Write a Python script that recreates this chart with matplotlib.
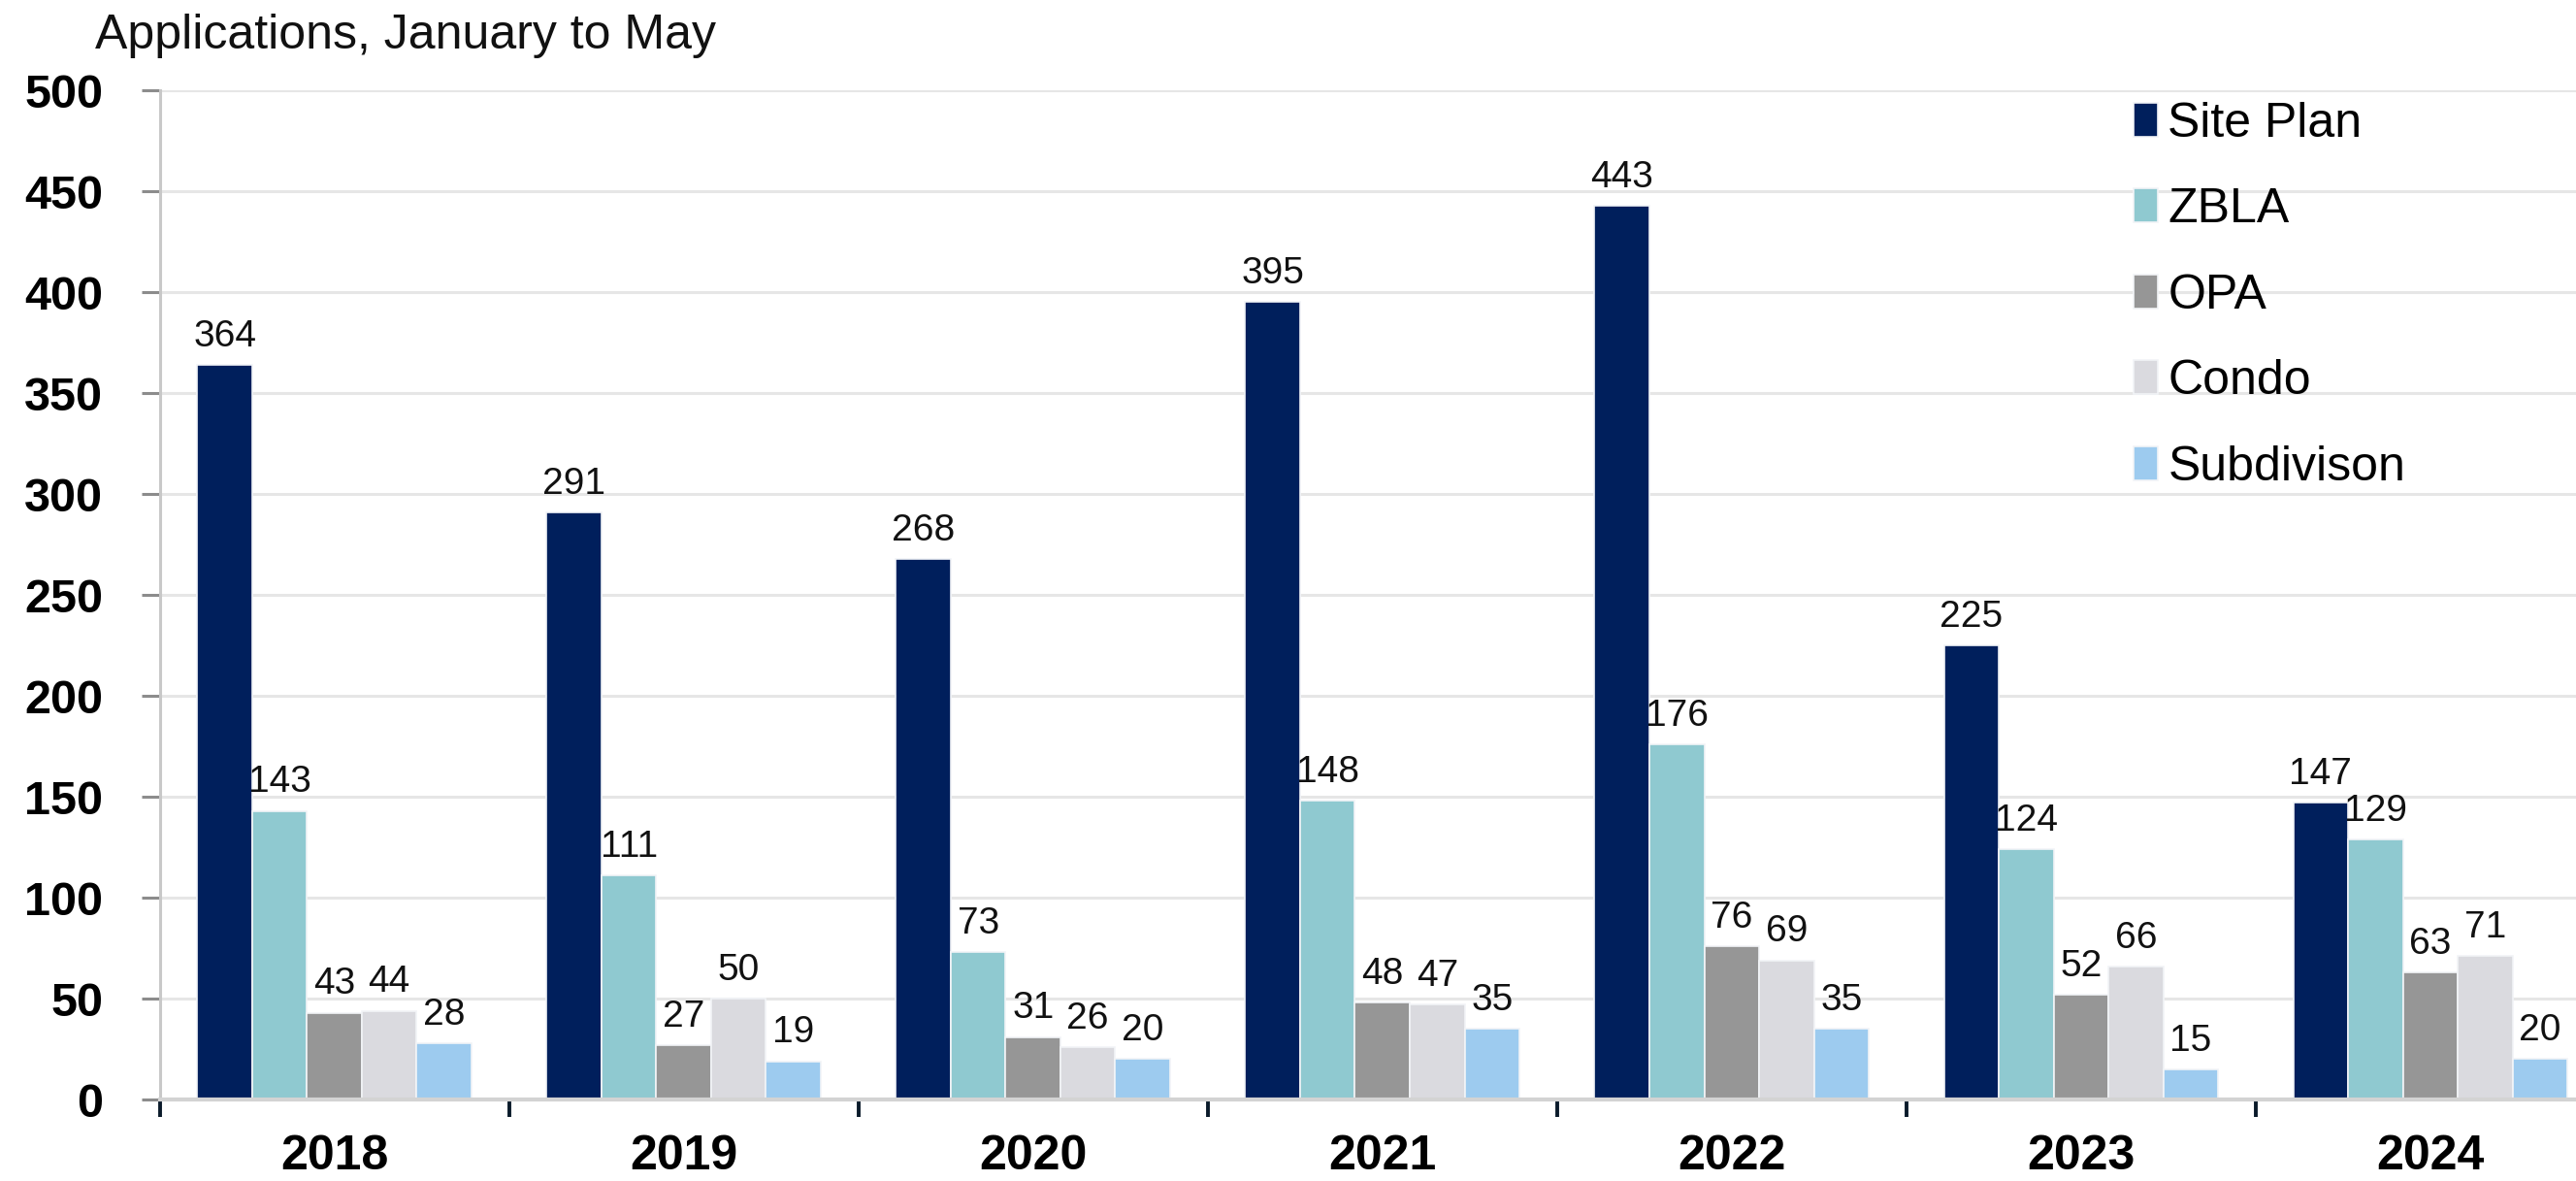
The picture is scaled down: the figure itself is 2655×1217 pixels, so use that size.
import numpy as np
import matplotlib.pyplot as plt

# data
years = ['2018', '2019', '2020', '2021', '2022', '2023', '2024']
site_plan = [364, 291, 268, 395, 443, 225, 147]
zbla = [143, 111, 73, 148, 176, 124, 129]
opa = [43, 27, 31, 48, 76, 52, 63]
condo = [44, 50, 26, 47, 69, 66, 71]
subdivision = [28, 19, 20, 35, 35, 15, 20]

series_names = ['Site Plan', 'ZBLA', 'OPA', 'Condo', 'Subdivison']
series_values = [site_plan, zbla, opa, condo, subdivision]
colors = ['#001F5C', '#8FC9D0', '#969696', '#DADADF', '#9DCBEF']

plt.rcParams['font.family'] = ['Liberation Sans', 'DejaVu Sans']

fig = plt.figure(figsize=(26.55, 12.17), dpi=100)
ax = fig.add_axes([0.062, 0.069, 0.938, 0.8545])

x = np.arange(len(years))
w = 0.157
for i, (name, vals) in enumerate(zip(series_names, series_values)):
    pos = x + (i - 2) * w
    bars = ax.bar(pos, vals, width=w, color=colors[i], edgecolor='#F2F4F7',
                  linewidth=1.2, label=name, zorder=2)
    for b, v in zip(bars, vals):
        ax.annotate(str(v), (b.get_x() + b.get_width() / 2, v),
                    xytext=(0, 8), textcoords='offset points',
                    ha='center', va='bottom', fontsize=28, color='#111111')

ax.set_ylim(0, 500)
ax.set_xlim(-0.5, 6.417)
ax.set_yticks(np.arange(0, 501, 50))
ax.yaxis.grid(True, color='#E6E6E6', linewidth=2.2, zorder=0)
ax.set_axisbelow(True)

ax.spines['top'].set_visible(False)
ax.spines['right'].set_visible(False)
ax.spines['left'].set_color('#C8C8C8')
ax.spines['left'].set_linewidth(2.2)
ax.spines['bottom'].set_color('#D3D3D3')
ax.spines['bottom'].set_linewidth(3)
ax.spines['bottom'].set_zorder(3)

ax.tick_params(axis='y', length=14, width=2.2, color='#8C8C8C', pad=28,
               labelsize=35)
for lbl in ax.get_yticklabels():
    lbl.set_fontweight('bold')

ax.set_xticks(x)
ax.set_xticklabels(years, fontsize=36, fontweight='bold')
ax.set_xticks(np.arange(-0.5, 6.5, 1), minor=True)
ax.tick_params(axis='x', which='major', length=0, pad=26)
ax.tick_params(axis='x', which='minor', length=13, width=2.8, color='#0A1A2A')

fig.text(0.037, 0.970, 'Applications, January to May', fontsize=36,
         ha='left', va='center', color='#111111')

ax.legend(loc='upper left', bbox_to_anchor=(0.809, 1.008), frameon=False,
          fontsize=36, handlelength=0.5, handleheight=0.7,
          handletextpad=0.2, labelspacing=0.85, borderaxespad=0)

fig.savefig('out.png', dpi=100)
